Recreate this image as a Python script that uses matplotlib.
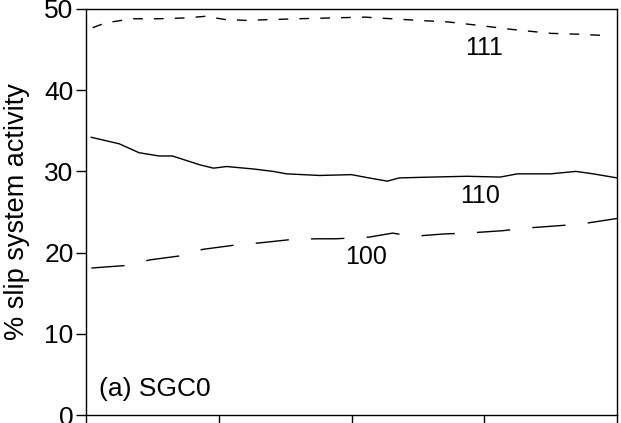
import numpy as np
import matplotlib
matplotlib.use('Agg')
import matplotlib.pyplot as plt

plt.rcParams['font.family'] = ['Liberation Sans', 'DejaVu Sans']

# strain axis, 0..4 (tick labels are not shown on this panel)
x111 = [0.05, 0.15, 0.35, 0.55, 0.75, 0.9, 1.05, 1.2, 1.4, 1.6, 1.85, 2.1, 2.3, 2.5, 2.73, 2.95, 3.2, 3.5, 3.7, 3.95]
y111 = [47.7, 48.3, 48.8, 48.8, 48.9, 49.1, 48.7, 48.6, 48.7, 48.8, 48.9, 49.0, 48.8, 48.6, 48.4, 48.0, 47.5, 47.0, 46.9, 46.7]

x110 = [0.04, 0.25, 0.4, 0.55, 0.65, 0.86, 0.96, 1.06, 1.26, 1.41, 1.51, 1.76, 2.0, 2.13, 2.27, 2.36, 2.6, 2.87, 3.12, 3.25, 3.5, 3.69, 3.82, 4.0]
y110 = [34.2, 33.4, 32.3, 31.9, 31.9, 30.8, 30.4, 30.6, 30.3, 30.0, 29.7, 29.5, 29.6, 29.2, 28.8, 29.2, 29.3, 29.4, 29.3, 29.7, 29.7, 30.0, 29.7, 29.2]

x100 = [0.04, 0.29, 0.48, 0.71, 0.88, 1.11, 1.31, 1.54, 1.73, 1.88, 2.13, 2.31, 2.46, 2.7, 2.87, 3.14, 3.3, 3.55, 3.72, 4.0]
y100 = [18.1, 18.4, 19.1, 19.6, 20.4, 20.9, 21.2, 21.6, 21.7, 21.7, 21.9, 22.4, 22.0, 22.3, 22.4, 22.7, 23.0, 23.3, 23.5, 24.2]

fig = plt.figure(figsize=(6.21, 4.23), dpi=100)
ax = fig.add_axes([86 / 621, 8 / 423, 531 / 621, 406 / 423])

ax.plot(x111, y111, color='black', lw=1.0, dashes=(7, 8))
ax.plot(x110, y110, color='black', lw=1.0)
ax.plot(x100, y100, color='black', lw=1.0, dashes=(24, 16))

ax.text(3.0, 45.2, '111', fontsize=18, ha='center', va='center')
ax.text(2.97, 27.0, '110', fontsize=18, ha='center', va='center')
ax.text(2.11, 19.5, '100', fontsize=18, ha='center', va='center')
ax.text(0.1, 3.2, '(a) SGC0', fontsize=19, ha='left', va='center')

ax.set_xlim(0, 4)
ax.set_ylim(0, 50)
ax.set_xticks([0, 1, 2, 3, 4])
ax.set_xticklabels([])
ax.set_yticks([0, 10, 20, 30, 40, 50])
ax.tick_params(axis='y', labelsize=19, length=7, width=1.0, direction='out', pad=2)
ax.tick_params(axis='x', length=7, width=1.0, direction='out')
for s in ax.spines.values():
    s.set_linewidth(1.0)
ax.set_ylabel('% slip system activity', fontsize=19.5, labelpad=10)

fig.savefig('out.png', dpi=100)
